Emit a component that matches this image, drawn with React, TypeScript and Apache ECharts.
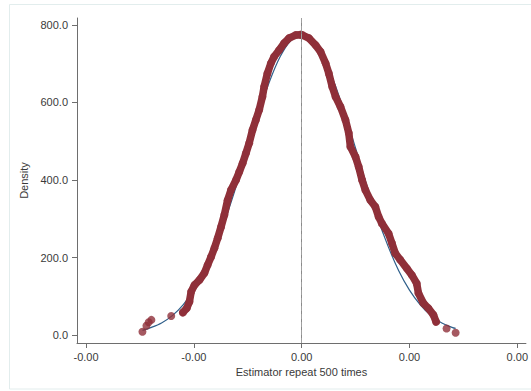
import React, { useEffect, useRef } from "react";
import * as echarts from "echarts";

// Kernel density estimate (red markers)
const redX = [
  -0.001477, -0.00144, -0.001419, -0.001394, -0.00121, -0.001102, -0.001066, -0.001041, -0.001025,
  -0.000994, -0.000948, -0.000902, -0.000872, -0.00084, -0.00081, -0.000779, -0.000748, -0.000717,
  -0.000687, -0.000656, -0.000609, -0.000579, -0.000548, -0.000517, -0.000487, -0.000456, -0.000425,
  -0.000394, -0.000364, -0.000348, -0.000318, -0.000286, -0.000256, -0.00021, -0.000163, -0.000117,
  -0.000055, -0.000009, 0.000006, 0.000067, 0.000129, 0.000175, 0.000222, 0.000252, 0.000283,
  0.000314, 0.00036, 0.000406, 0.000437, 0.000452, 0.000499, 0.000529, 0.00056, 0.000591, 0.000637,
  0.000683, 0.000714, 0.000744, 0.000806, 0.000837, 0.000868, 0.000914, 0.000975, 0.001021, 0.001067,
  0.001083, 0.001129, 0.001175, 0.001222, 0.001247, 0.001344, 0.001428,
];
const redY = [
  8.5, 24, 33, 39, 49, 58, 69, 86, 112, 129, 142, 160, 181, 202, 224, 250, 279, 310, 348, 374, 400,
  421, 443, 469, 495, 529, 555, 581, 615, 641, 675, 701, 718, 735, 753, 766, 774, 775, 774, 766,
  748, 731, 701, 675, 641, 615, 589, 555, 521, 486, 460, 434, 400, 374, 348, 331, 305, 288, 262,
  237, 211, 194, 172, 155, 133, 108, 82, 69, 52, 34, 17, 6,
];
// contiguous band of the estimate (tail points stand alone)
const bandFirst = 5;
const bandLast = 69;

// Normal density reference (blue line)
const blueX = [
  -0.001477, -0.0014, -0.0013, -0.0012, -0.0011, -0.001, -0.0009, -0.0008, -0.0007, -0.0006, -0.0005,
  -0.0004, -0.0003, -0.0002, -0.0001, 0, 0.0001, 0.0002, 0.0003, 0.0004, 0.0005, 0.0006, 0.0007,
  0.0008, 0.0009, 0.001, 0.0011, 0.0012, 0.0013, 0.0014, 0.001428,
];
const blueY = [
  12, 19, 31, 50, 78, 116, 166, 230, 305, 390, 482, 572, 653, 718, 760, 775, 760, 718, 653, 572, 482,
  390, 305, 230, 166, 116, 78, 50, 31, 19, 17,
];

const xTicks = [-0.002, -0.001, 0, 0.001, 0.002];
const yTicks = [0, 200, 400, 600, 800];
const refLines = [0, 0.001483];

const RED = "#8f3039";
const BLUE = "#2f5f8a";
const AXIS = "#6e6e6e";
const TXT = "#3a3a3a";
const FONT = "Liberation Sans, Arial, sans-serif";

export default function App() {
  const ref = useRef<HTMLDivElement>(null);
  useEffect(() => {
    if (!ref.current) return;
    const chart = echarts.init(ref.current, null, { renderer: "svg" });
    const pts = redX.map((x, i) => [x, redY[i]]);
    const band = pts.slice(bandFirst, bandLast + 1);
    const blue = blueX.map((x, i) => [x, blueY[i]]);
    chart.setOption({
      animation: false,
      backgroundColor: "#ffffff",
      graphic: [
        {
          type: "rect",
          shape: { x: 9.5, y: 4.5, width: 540, height: 384.5 },
          style: { fill: "none", stroke: "#e2eded", lineWidth: 1 },
          silent: true,
        },
      ],
      grid: { left: 77, right: 3, top: 18, bottom: 48 },
      xAxis: {
        type: "value",
        min: -0.002084,
        max: 0.00208,
        name: "Estimator repeat 500 times",
        nameLocation: "middle",
        nameGap: 20,
        nameTextStyle: { fontSize: 11, color: TXT, fontFamily: FONT },
        axisLine: { show: true, onZero: false, lineStyle: { color: AXIS, width: 1 } },
        axisTick: { show: true, length: 5, customValues: xTicks, lineStyle: { color: AXIS } },
        axisLabel: {
          customValues: xTicks,
          formatter: (v: number) => v.toFixed(2),
          fontSize: 11,
          color: TXT,
          fontFamily: FONT,
          margin: 8,
        },
        splitLine: { show: false },
      },
      yAxis: {
        type: "value",
        min: -20.6,
        max: 818,
        name: "Density",
        nameLocation: "middle",
        nameRotate: 90,
        nameGap: 40,
        nameTextStyle: { fontSize: 11, color: TXT, fontFamily: FONT },
        axisLine: { show: true, onZero: false, lineStyle: { color: AXIS, width: 1 } },
        axisTick: { show: true, length: 5, customValues: yTicks, lineStyle: { color: AXIS } },
        axisLabel: {
          customValues: yTicks,
          formatter: (v: number) => v.toFixed(1),
          fontSize: 11,
          color: TXT,
          fontFamily: FONT,
          margin: 9,
        },
        splitLine: { show: false },
      },
      series: [
        {
          type: "line",
          data: [],
          silent: true,
          markLine: {
            silent: true,
            symbol: "none",
            label: { show: false },
            data: [
              { xAxis: refLines[0], lineStyle: { color: "#8a8a8a", width: 1, type: "solid" } },
              { xAxis: refLines[1], lineStyle: { color: "#a0a0a0", width: 1, type: [5, 3] } },
            ],
          },
        },
        {
          type: "line",
          data: blue,
          smooth: 0.3,
          showSymbol: false,
          lineStyle: { color: BLUE, width: 1.2 },
          z: 2,
        },
        {
          type: "line",
          data: band,
          showSymbol: false,
          lineStyle: { color: RED, width: 7.5, cap: "round", join: "round" },
          z: 3,
        },
        {
          type: "scatter",
          data: pts,
          symbolSize: 8,
          itemStyle: { color: RED },
          z: 4,
        },
      ],
    });
    return () => chart.dispose();
  }, []);
  return (
    <div
      ref={ref}
      style={{ position: "fixed", left: 0, top: 0, width: 531, height: 391, background: "#fff" }}
    />
  );
}
